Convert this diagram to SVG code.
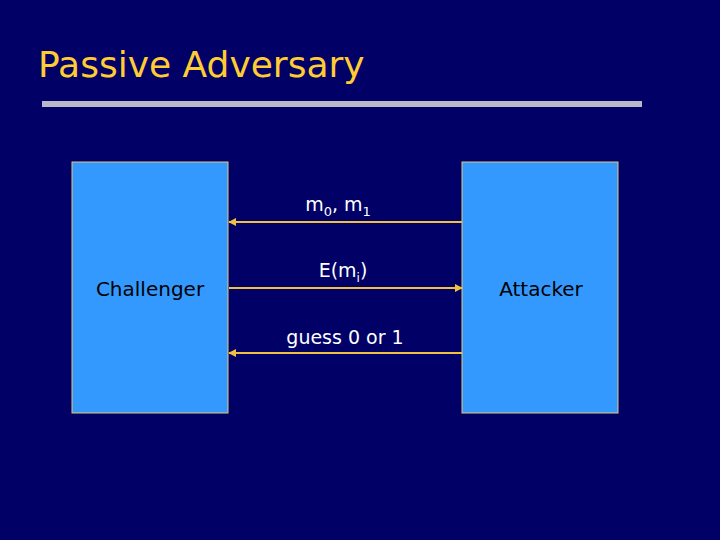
<svg xmlns="http://www.w3.org/2000/svg" width="720" height="540" viewBox="0 0 720 540">
<defs>
<style>
.box{fill:#3399ff;stroke:#e6c870;stroke-width:1}
.lbl{font-family:"DejaVu Sans",sans-serif;font-size:20px;fill:#000}
.msg{font-family:"DejaVu Sans",sans-serif;font-size:19px;fill:#fff;text-anchor:middle}
.ln{stroke:#f0c040;stroke-width:2}
</style>
<marker id="ah" viewBox="0 0 10 10" refX="9" refY="5" markerWidth="4" markerHeight="4" orient="auto-start-reverse"><path d="M0,0L10,5L0,10z" fill="#f0c040"/></marker>
</defs>
<rect width="720" height="540" fill="#000066"/>
<text x="38" y="77" font-family="'DejaVu Sans',sans-serif" font-size="36" fill="#ffcc33">Passive Adversary</text>
<rect x="42" y="101" width="600" height="6" fill="#b8b8c8"/>
<g id="challenger"><rect class="box" x="72" y="162" width="156" height="251"/><text class="lbl" x="150" y="296" text-anchor="middle">Challenger</text></g>
<g id="attacker"><rect class="box" x="462" y="162" width="156" height="251"/><text class="lbl" x="541" y="296" text-anchor="middle">Attacker</text></g>
<g id="connectors">
<line class="ln" x1="462" y1="222" x2="229" y2="222" marker-end="url(#ah)"/>
<line class="ln" x1="229" y1="288" x2="462" y2="288" marker-end="url(#ah)"/>
<line class="ln" x1="462" y1="353" x2="229" y2="353" marker-end="url(#ah)"/>
</g>
<text class="msg" x="338" y="211">m<tspan font-size="13" dy="5">0</tspan><tspan dy="-5">, m</tspan><tspan font-size="13" dy="5">1</tspan></text>
<text class="msg" x="343" y="277">E(m<tspan font-size="12" dy="5">i</tspan><tspan dy="-5">)</tspan></text>
<text class="msg" x="345" y="344">guess 0 or 1</text>
</svg>
